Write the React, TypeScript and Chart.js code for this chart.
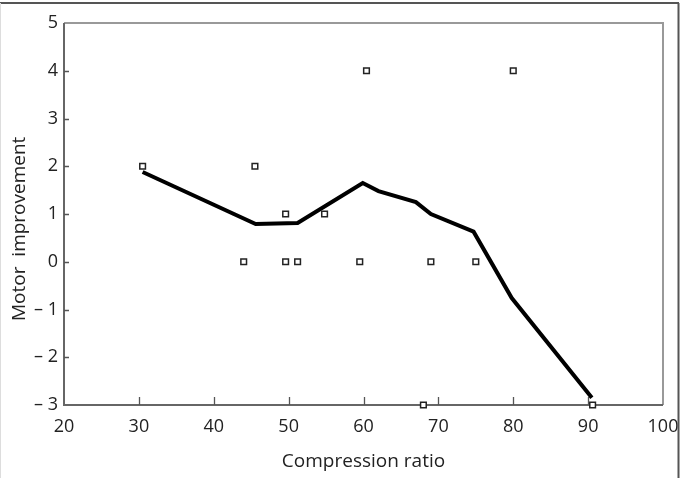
import React, { useEffect, useRef } from "react";
import { Chart, registerables } from "chart.js";

Chart.register(...registerables);

const scatterX = [30.5, 45.5, 44, 49.6, 49.6, 51.2, 54.8, 60.4, 59.5, 68, 69, 75, 80, 90.6];
const scatterY = [2, 2, 0, 1, 0, 0, 1, 4, 0, -3, 0, 0, 4, -3];
const lineX = [30.5, 45.6, 51.2, 59.9, 62, 67, 69, 74.7, 79.8, 90.5];
const lineY = [1.88, 0.79, 0.81, 1.65, 1.48, 1.25, 1.0, 0.63, -0.76, -2.85];
const xTicks = [20, 30, 40, 50, 60, 70, 80, 90, 100];
const yTicks = [-3, -2, -1, 0, 1, 2, 3, 4, 5];
const xTitle = "Compression ratio";
const yTitle = "Motor  improvement      ";

const FONT = "'Open Sans', 'Noto Sans', sans-serif";

const framePlugin = {
  id: "framePlugin",
  beforeDatasetsDraw(chart: any) {
    const { ctx, chartArea } = chart;
    const { left, right, top, bottom } = chartArea;
    ctx.save();
    // outer figure frame
    ctx.strokeStyle = "#555";
    ctx.lineWidth = 2;
    ctx.beginPath();
    ctx.moveTo(0, 3);
    ctx.lineTo(679, 3);
    ctx.moveTo(678.5, 3);
    ctx.lineTo(678.5, 478);
    ctx.stroke();
    ctx.strokeStyle = "#ddd";
    ctx.lineWidth = 1;
    ctx.beginPath();
    ctx.moveTo(0.5, 3);
    ctx.lineTo(0.5, 478);
    ctx.stroke();
    // top & right plot borders
    ctx.strokeStyle = "#999";
    ctx.lineWidth = 2;
    ctx.beginPath();
    ctx.moveTo(left, top);
    ctx.lineTo(right, top);
    ctx.lineTo(right, bottom);
    ctx.stroke();
    // left & bottom axes
    ctx.strokeStyle = "#666";
    ctx.beginPath();
    ctx.moveTo(left, top);
    ctx.lineTo(left, bottom);
    ctx.lineTo(right, bottom);
    ctx.stroke();
    // inward ticks
    ctx.strokeStyle = "#555";
    ctx.lineWidth = 1.3;
    const xs = chart.scales.x;
    const ys = chart.scales.y;
    ctx.beginPath();
    xs.ticks.forEach((t: any) => {
      if (t.value <= xs.min || t.value >= xs.max) return;
      const px = Math.round(xs.getPixelForValue(t.value)) + 0.5;
      ctx.moveTo(px, bottom);
      ctx.lineTo(px, bottom - 8);
    });
    ys.ticks.forEach((t: any) => {
      if (t.value <= ys.min || t.value >= ys.max) return;
      const py = Math.round(ys.getPixelForValue(t.value)) + 0.5;
      ctx.moveTo(left, py);
      ctx.lineTo(left + 5, py);
    });
    ctx.stroke();
    ctx.restore();
  },
};

export default function App() {
  const ref = useRef<HTMLCanvasElement | null>(null);
  useEffect(() => {
    if (!ref.current) return;
    const chart = new Chart(ref.current, {
      type: "scatter",
      data: {
        datasets: [
          {
            type: "line",
            label: "fit",
            data: lineX.map((x, i) => ({ x, y: lineY[i] })),
            borderColor: "#000",
            borderWidth: 4,
            pointRadius: 0,
            fill: false,
            tension: 0,
            clip: false,
            order: 2,
          } as any,
          {
            type: "scatter",
            label: "data",
            data: scatterX.map((x, i) => ({ x, y: scatterY[i] })),
            pointStyle: "rect",
            pointRadius: 4,
            borderColor: "#222",
            backgroundColor: "#fff",
            borderWidth: 1.5,
            clip: false,
            order: 1,
          } as any,
        ],
      },
      options: {
        responsive: false,
        animation: false,
        devicePixelRatio: 1,
        layout: { padding: { top: 23, right: 17, left: 0, bottom: 0 } },
        plugins: {
          legend: { display: false },
          tooltip: { enabled: false },
        },
        scales: {
          x: {
            type: "linear",
            min: 20,
            max: 100,
            afterBuildTicks: (s: any) => {
              s.ticks = xTicks.map((v) => ({ value: v }));
            },
            afterFit: (s: any) => {
              s.height = 73;
              s.paddingLeft = 0;
              s.paddingRight = 0;
            },
            grid: { display: false, drawTicks: false },
            border: { display: false },
            ticks: {
              color: "#222",
              font: { family: FONT, size: 18 },
              padding: 11,
              maxRotation: 0,
              autoSkip: false,
              callback: (v: any) => String(v),
            },
            title: {
              display: true,
              text: xTitle,
              color: "#222",
              font: { family: FONT, size: 19 },
              padding: { top: 0, bottom: 5 },
            },
          },
          y: {
            type: "linear",
            min: -3,
            max: 5,
            afterBuildTicks: (s: any) => {
              s.ticks = yTicks.map((v) => ({ value: v }));
            },
            afterFit: (s: any) => {
              s.width = 64;
              s.paddingTop = 0;
              s.paddingBottom = 0;
            },
            grid: { display: false, drawTicks: false },
            border: { display: false },
            ticks: {
              color: "#222",
              font: { family: FONT, size: 18 },
              padding: 6,
              autoSkip: false,
              callback: (v: any) => (v < 0 ? "\u2013 " + Math.abs(v) : String(v)),
            },
            title: {
              display: true,
              text: yTitle,
              color: "#222",
              font: { family: FONT, size: 19 },
              padding: { top: 8, bottom: 0 },
            },
          },
        },
      },
      plugins: [framePlugin],
    });
    return () => chart.destroy();
  }, []);
  return (
    <div style={{ position: "fixed", left: 0, top: 0, width: 680, height: 478, background: "#fff" }}>
      <canvas ref={ref} width={680} height={478} />
    </div>
  );
}
